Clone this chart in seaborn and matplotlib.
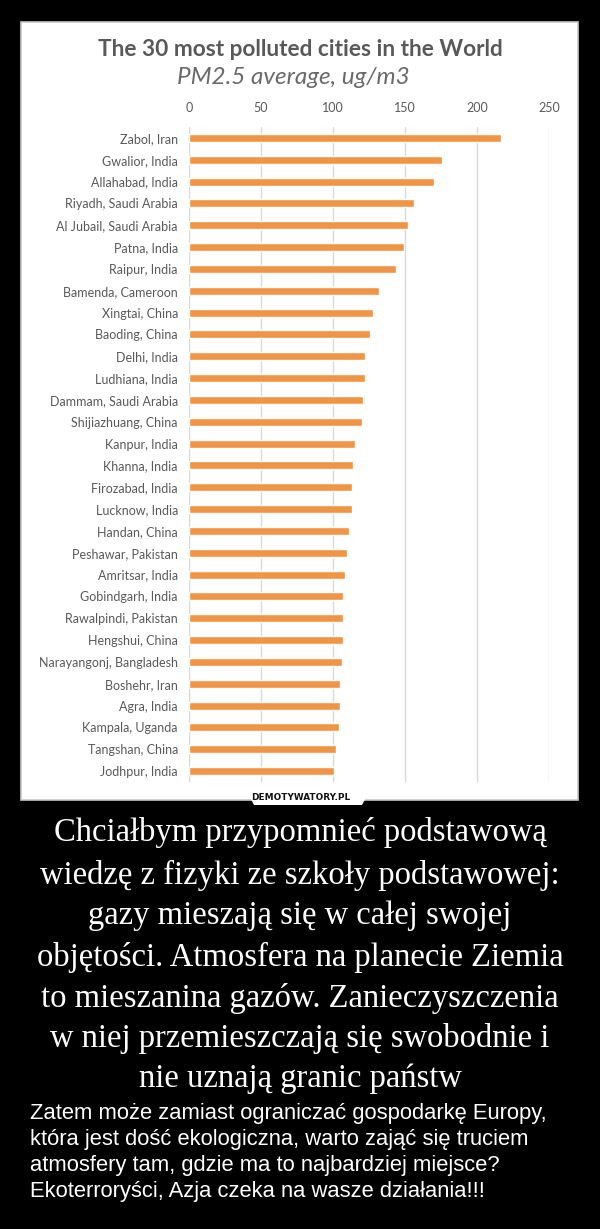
import matplotlib
matplotlib.use("Agg")
import matplotlib.pyplot as plt
import seaborn as sns
import pandas as pd
from matplotlib.patches import Rectangle, Polygon

cities = ["Zabol, Iran", "Gwalior, India", "Allahabad, India", "Riyadh, Saudi Arabia",
          "Al Jubail, Saudi Arabia", "Patna, India", "Raipur, India", "Bamenda, Cameroon",
          "Xingtai, China", "Baoding, China", "Delhi, India", "Ludhiana, India",
          "Dammam, Saudi Arabia", "Shijiazhuang, China", "Kanpur, India", "Khanna, India",
          "Firozabad, India", "Lucknow, India", "Handan, China", "Peshawar, Pakistan",
          "Amritsar, India", "Gobindgarh, India", "Rawalpindi, Pakistan", "Hengshui, China",
          "Narayangonj, Bangladesh", "Boshehr, Iran", "Agra, India", "Kampala, Uganda",
          "Tangshan, China", "Jodhpur, India"]
pm25 = [217, 176, 170, 156, 152, 149, 144, 132, 128, 126, 122, 122, 121, 120, 115,
        114, 113, 113, 111, 110, 108, 107, 107, 107, 106, 105, 105, 104, 102, 101]
xticks = [0, 50, 100, 150, 200, 250]

title = "The 30 most polluted cities in the World"
subtitle = "PM2.5 average, ug/m3"
caption_lines = ["Chciałbym przypomnieć podstawową",
                 "wiedzę z fizyki ze szkoły podstawowej:",
                 "gazy mieszają się w całej swojej",
                 "objętości. Atmosfera na planecie Ziemia",
                 "to mieszanina gazów. Zanieczyszczenia",
                 "w niej przemieszczają się swobodnie i",
                 "nie uznają granic państw"]
body_lines = ["Zatem może zamiast ograniczać gospodarkę Europy,",
              "która jest dość ekologiczna, warto zająć się truciem",
              "atmosfery tam, gdzie ma to najbardziej miejsce?",
              "Ekoterroryści, Azja czeka na wasze działania!!!"]

df = pd.DataFrame({"city": cities, "pm25": pm25})

sns.set_theme(style="white")
plt.rcParams["font.family"] = ["Lato", "DejaVu Sans"]

W, H = 600, 1229
fig = plt.figure(figsize=(W / 100, H / 100), dpi=100, facecolor="black")

def fx(x):
    return x / W

def fy(y):
    return 1 - y / H

# white panel
panel = Rectangle((fx(21), fy(800)), fx(578) - fx(21), fy(22) - fy(800),
                  transform=fig.transFigure, facecolor="white",
                  edgecolor="#c8c8c8", linewidth=1.2, zorder=-5)
fig.patches.append(panel)

ax = fig.add_axes([fx(189), fy(782), fx(549) - fx(189), fy(127) - fy(782)])
ax.set_zorder(5)
ax.set_facecolor("white")
sns.barplot(data=df, y="city", x="pm25", orient="h", color="#F29446",
            width=0.36, saturation=1, ax=ax, zorder=3)
ax.set_xlim(0, 250)
ax.set_xticks(xticks)
ax.xaxis.tick_top()
ax.set_xlabel("")
ax.set_ylabel("")
ax.grid(axis="x", color="#d9d9d9", linewidth=1, zorder=0)
ax.grid(axis="y", visible=False)
for s in ax.spines.values():
    s.set_visible(False)
ax.tick_params(axis="both", length=0, colors="#595959")
ax.tick_params(axis="x", pad=9, labelsize=9)
ax.tick_params(axis="y", pad=8, labelsize=9)
ax.set_axisbelow(True)

fig.text(0.5, fy(50), title, ha="center", va="center", color="#595959",
         fontsize=16.3, fontweight="bold", zorder=6)
fig.text(fx(293), fy(77), subtitle, ha="center", va="center", color="#6a6a6a",
         fontsize=17.5, fontstyle="italic", zorder=6)

# DEMOTYWATORY badge
badge = Polygon([[fx(246), fy(790)], [fx(370), fy(790)], [fx(362), fy(805)], [fx(254), fy(805)]],
                closed=True, transform=fig.transFigure, facecolor="white",
                edgecolor="none", zorder=6)
fig.patches.append(badge)
fig.text(fx(301), fy(797), "DEMOTYWATORY.PL", ha="center", va="center", color="#111111",
         fontsize=6.4, fontweight="bold", family=["DejaVu Sans Condensed", "DejaVu Sans"],
         zorder=7)

caption_y = [833, 875, 916, 957, 998, 1039, 1079]
for line, y in zip(caption_lines, caption_y):
    fig.text(0.5, fy(y), line, ha="center", va="center", color="white",
             fontsize=23.5, family=["Liberation Serif", "DejaVu Serif"])

body_y = [1114, 1140, 1166, 1192]
for line, y in zip(body_lines, body_y):
    fig.text(fx(30), fy(y), line, ha="left", va="center", color="white",
             fontsize=15.8, family=["Liberation Sans", "DejaVu Sans"])

fig.savefig("out.png", dpi=100, facecolor="black")
